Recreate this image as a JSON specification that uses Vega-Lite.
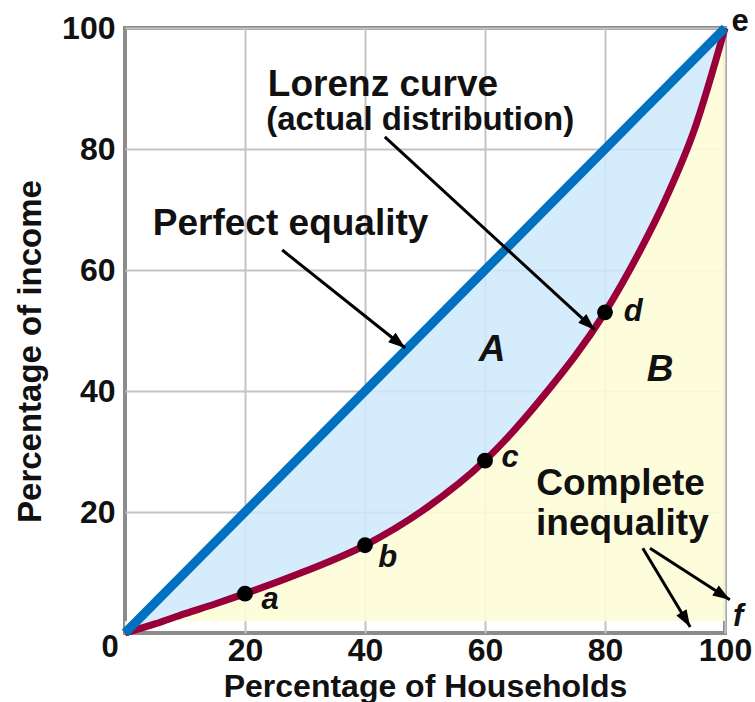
{
  "$schema": "https://vega.github.io/schema/vega-lite/v6.json",
  "width": 600,
  "height": 605,
  "autosize": {"type": "none"},
  "padding": {"left": 125, "top": 28, "right": 30, "bottom": 69},
  "background": "white",
  "config": {
    "font": "Liberation Sans",
    "view": {"stroke": "#8c8c8c", "strokeWidth": 4}
  },
  "datasets": {
    "curve": [
      {"x": 0, "lorenz": 0, "eq": 0},
      {"x": 5, "lorenz": 1.5, "eq": 5},
      {"x": 10, "lorenz": 3.2, "eq": 10},
      {"x": 15, "lorenz": 4.8, "eq": 15},
      {"x": 20, "lorenz": 6.5, "eq": 20},
      {"x": 30, "lorenz": 10.2, "eq": 30},
      {"x": 40, "lorenz": 14.5, "eq": 40},
      {"x": 50, "lorenz": 20.5, "eq": 50},
      {"x": 60, "lorenz": 28.5, "eq": 60},
      {"x": 70, "lorenz": 39.5, "eq": 70},
      {"x": 80, "lorenz": 53, "eq": 80},
      {"x": 86, "lorenz": 63.5, "eq": 86},
      {"x": 90, "lorenz": 71.5, "eq": 90},
      {"x": 95, "lorenz": 83.5, "eq": 95},
      {"x": 100, "lorenz": 100, "eq": 100}
    ],
    "points": [
      {"x": 20, "y": 6.5, "label": "a"},
      {"x": 40, "y": 14.5, "label": "b"},
      {"x": 60, "y": 28.5, "label": "c"},
      {"x": 80, "y": 53, "label": "d"}
    ],
    "italicLabels": [
      {"x": 24.2, "y": 5.5, "label": "a"},
      {"x": 43.8, "y": 12.4, "label": "b"},
      {"x": 64.2, "y": 28.9, "label": "c"},
      {"x": 84.7, "y": 53.1, "label": "d"},
      {"x": 102.2, "y": 2.6, "label": "f"}
    ],
    "plainLabels": [
      {"x": 102.5, "y": 101, "label": "e"},
      {"x": -2.5, "y": -2.5, "label": "0"}
    ],
    "bigText": [
      {"x": 43.0, "y": 88.8, "label": "Lorenz curve", "size": 37},
      {"x": 49.2, "y": 83.1, "label": "(actual distribution)", "size": 33},
      {"x": 27.6, "y": 65.8, "label": "Perfect equality", "size": 37},
      {"x": 82.6, "y": 22.8, "label": "Complete", "size": 37},
      {"x": 82.9, "y": 16.2, "label": "inequality", "size": 37}
    ],
    "areaText": [
      {"x": 61.2, "y": 46.8, "label": "A"},
      {"x": 89.2, "y": 43.5, "label": "B"}
    ],
    "arrows": [
      {"id": 1, "x1": 26.2, "y1": 63.3, "x2": 46.7, "y2": 47.1},
      {"id": 2, "x1": 43.3, "y1": 82.0, "x2": 78.3, "y2": 50.1},
      {"id": 3, "x1": 86.3, "y1": 14.0, "x2": 94.2, "y2": 1.0},
      {"id": 4, "x1": 87.5, "y1": 14.0, "x2": 100.8, "y2": 5.5}
    ]
  },
  "layer": [
    {
      "data": {"name": "curve"},
      "mark": {"type": "area", "color": "#fdfdd8", "opacity": 0.9, "interpolate": "monotone"},
      "encoding": {
        "x": {"field": "x", "type": "quantitative", "scale": {"domain": [0, 100], "nice": false},
          "axis": {"values": [20, 40, 60, 80, 100], "grid": true, "gridColor": "#c4c4c4", "gridWidth": 2, "domain": false, "ticks": false,
            "labelFontSize": 32, "labelFontWeight": "bold", "labelColor": "#111", "labelPadding": 2, "labelFlush": false, "labelOverlap": false,
            "title": "Percentage of Households", "titleFontSize": 32, "titleFontWeight": "bold", "titleColor": "#111",
            "titleY": 38, "titleBaseline": "top"}},
        "y": {"field": "lorenz", "type": "quantitative", "scale": {"domain": [0, 100], "nice": false},
          "axis": {"values": [20, 40, 60, 80, 100], "grid": true, "gridColor": "#c4c4c4", "gridWidth": 2, "domain": false, "ticks": false,
            "labelFontSize": 32, "labelFontWeight": "bold", "labelColor": "#111", "labelPadding": 10, "labelFlush": false, "labelOverlap": false,
            "title": "Percentage of income", "titleFontSize": 33, "titleFontWeight": "bold", "titleColor": "#111",
            "titleX": -85, "titleY": 323, "titleBaseline": "alphabetic", "titleAlign": "center"}},
        "y2": {"datum": 2}
      }
    },
    {
      "data": {"name": "curve"},
      "mark": {"type": "area", "color": "#cde9fb", "opacity": 0.85, "interpolate": "monotone"},
      "encoding": {
        "x": {"field": "x", "type": "quantitative"},
        "y": {"field": "eq", "type": "quantitative"},
        "y2": {"field": "lorenz"}
      }
    },
    {
      "data": {"name": "curve"},
      "mark": {"type": "line", "color": "#99003a", "strokeWidth": 7, "interpolate": "monotone"},
      "encoding": {
        "x": {"field": "x", "type": "quantitative"},
        "y": {"field": "lorenz", "type": "quantitative"}
      }
    },
    {
      "data": {"name": "curve"},
      "mark": {"type": "line", "color": "#0070c0", "strokeWidth": 9, "strokeCap": "butt"},
      "encoding": {
        "x": {"field": "x", "type": "quantitative"},
        "y": {"field": "eq", "type": "quantitative"}
      }
    },
    {
      "data": {"name": "points"},
      "mark": {"type": "point", "shape": "circle", "filled": true, "color": "black", "size": 250, "opacity": 1},
      "encoding": {
        "x": {"field": "x", "type": "quantitative"},
        "y": {"field": "y", "type": "quantitative"}
      }
    },
    {
      "data": {"name": "arrows"},
      "mark": {"type": "rule", "color": "black", "strokeWidth": 3},
      "encoding": {
        "x": {"field": "x1", "type": "quantitative"},
        "y": {"field": "y1", "type": "quantitative"},
        "x2": {"field": "x2"},
        "y2": {"field": "y2"}
      }
    },
    {
      "data": {"name": "arrows"},
      "transform": [{"calculate": "atan2((datum.x2 - datum.x1) * 6, (datum.y2 - datum.y1) * 6.05) * 180 / PI", "as": "ang"}],
      "mark": {"type": "point", "shape": "M0,0L-0.6,1.7L0.6,1.7Z", "filled": true, "color": "black", "size": 400, "opacity": 1, "clip": false},
      "encoding": {
        "x": {"field": "x2", "type": "quantitative"},
        "y": {"field": "y2", "type": "quantitative"},
        "angle": {"field": "ang", "type": "quantitative", "scale": null}
      }
    },
    {
      "data": {"name": "bigText"},
      "mark": {"type": "text", "fontWeight": "bold", "color": "#111", "align": "center", "baseline": "alphabetic"},
      "encoding": {
        "x": {"field": "x", "type": "quantitative"},
        "y": {"field": "y", "type": "quantitative"},
        "text": {"field": "label"},
        "size": {"field": "size", "type": "quantitative", "scale": null}
      }
    },
    {
      "data": {"name": "areaText"},
      "mark": {"type": "text", "fontWeight": "bold", "fontStyle": "italic", "fontSize": 37, "color": "#111", "align": "center", "baseline": "middle"},
      "encoding": {
        "x": {"field": "x", "type": "quantitative"},
        "y": {"field": "y", "type": "quantitative"},
        "text": {"field": "label"}
      }
    },
    {
      "data": {"name": "italicLabels"},
      "mark": {"type": "text", "fontWeight": "bold", "fontStyle": "italic", "fontSize": 31, "color": "#111", "align": "center", "baseline": "middle", "clip": false},
      "encoding": {
        "x": {"field": "x", "type": "quantitative"},
        "y": {"field": "y", "type": "quantitative"},
        "text": {"field": "label"}
      }
    },
    {
      "data": {"name": "plainLabels"},
      "mark": {"type": "text", "fontWeight": "bold", "fontSize": 31, "color": "#111", "align": "center", "baseline": "middle", "clip": false},
      "encoding": {
        "x": {"field": "x", "type": "quantitative"},
        "y": {"field": "y", "type": "quantitative"},
        "text": {"field": "label"}
      }
    }
  ]
}
